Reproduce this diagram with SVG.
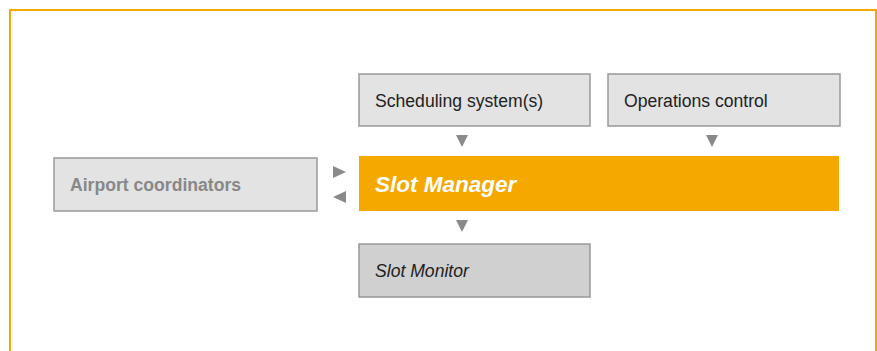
<svg xmlns="http://www.w3.org/2000/svg" width="877" height="351" viewBox="0 0 877 351">
<style>
.box{fill:#E3E3E3;stroke:#999;stroke-width:1.5}
.t{font-family:"Liberation Sans",Arial,sans-serif;font-size:17.6px;fill:#222}
.arr{fill:#8A8A8A}
</style>
<rect x="0" y="0" width="877" height="351" fill="#fff"/>
<rect x="10" y="10" width="866" height="346" fill="none" stroke="#F5A800" stroke-width="2"/>
<g id="scheduling"><rect class="box" x="359" y="74" width="231" height="52"/><text class="t" x="375" y="107">Scheduling system(s)</text></g>
<g id="operations"><rect class="box" x="608" y="74" width="232" height="52"/><text class="t" x="624" y="107">Operations control</text></g>
<g id="airport"><rect class="box" x="54" y="158" width="263" height="53"/><text class="t" x="70" y="191" style="fill:#888;font-weight:bold">Airport coordinators</text></g>
<g id="slotmanager"><rect x="359" y="156" width="480" height="55" fill="#F5A800"/><text class="t" x="375" y="192" style="fill:#fff;font-size:22.5px;font-weight:bold;font-style:italic">Slot Manager</text></g>
<g id="slotmonitor"><rect class="box" x="359" y="244" width="231" height="53" style="fill:#D0D0D0"/><text class="t" x="375" y="277" font-style="italic">Slot Monitor</text></g>
<g id="connectors">
<polygon class="arr" points="456,135 468,135 462,147"/>
<polygon class="arr" points="706,135 718,135 712,147"/>
<polygon class="arr" points="456,220 468,220 462,232"/>
<polygon class="arr" points="333,166 346,172 333,178"/>
<polygon class="arr" points="346,191 333,197 346,203"/>
</g>
</svg>
